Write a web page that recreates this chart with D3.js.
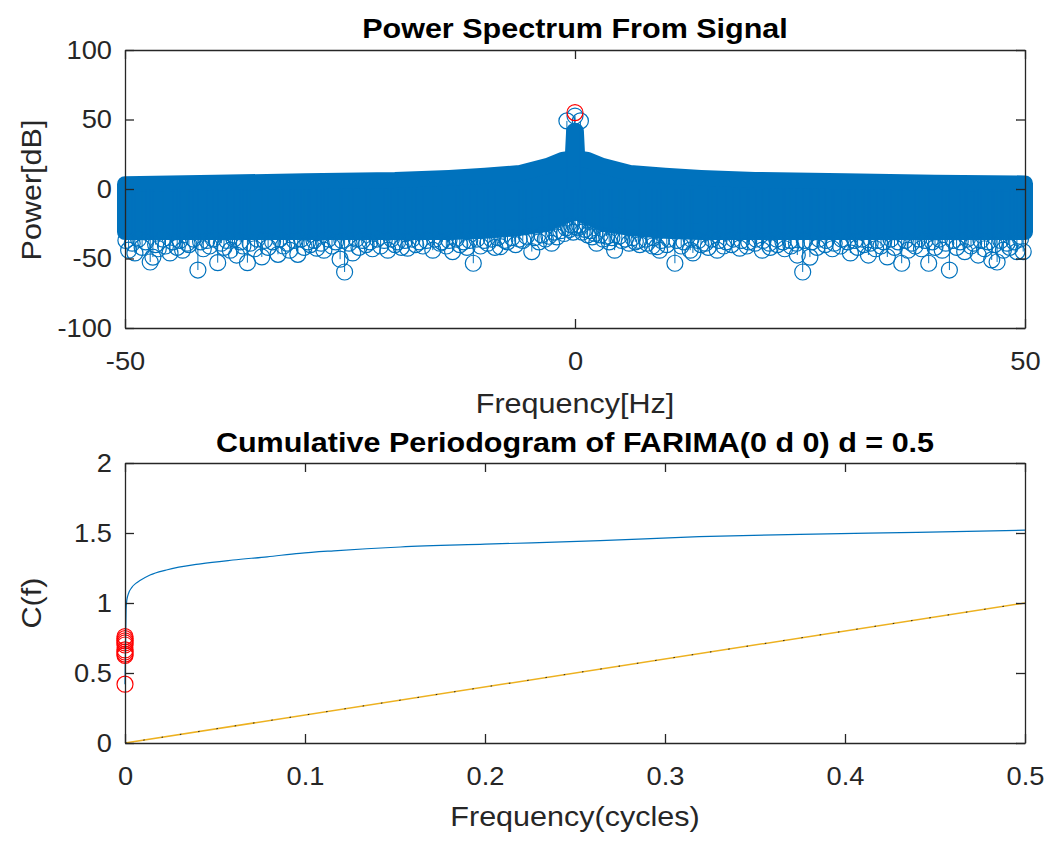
<!DOCTYPE html>
<html>
<head>
<meta charset="utf-8">
<script src="https://cdn.jsdelivr.net/npm/d3@7"></script>
<style>
  body { margin: 0; background: #fff; }
  svg text { font-family: "Liberation Sans", Arial, Helvetica, sans-serif; fill: #262626; }
</style>
</head>
<body>
<svg id="chart" width="1049" height="844"></svg>
<script>
// ---------- Power spectrum (stem plot, dB) ----------
// Envelope of the dense stem cloud: highest and lowest marker centres per frequency
const bandFreq   = [-50, -40, -30, -20, -14, -10, -6.1, -3.1, -1.4, -0.25, -0.1, 0.1, 0.25, 1.4, 3.1, 6.1, 10, 14, 20, 30, 40, 50];
const bandTop    = [3.5, 4.5, 5.5, 6.5, 8, 9.5, 11.5, 16.5, 20.9, 22, 41.7, 41.7, 22, 20.9, 16.5, 11.5, 9.5, 8, 6.5, 5.5, 4.5, 4];
const bandBottom = [-31, -31, -31, -31, -31, -30, -28, -25, -20, -17, -16, -16, -17, -20, -25, -28, -30, -31, -31, -31, -31, -31];

// Markers just under the lower edge of the cloud
const edgeFreq = [
  -49.9, -49.2, -48.5, -47.7, -46.6, -45.8, -44.7, -43.9, -43.1, -42.4,
  -41.6, -40.9, -40.2, -39.3, -38.7, -37.9, -37.2, -36.1, -35.3, -34.5,
  -33.6, -32.8, -32.0, -31.2, -30.4, -29.7, -29.0, -28.2, -27.4, -26.6,
  -25.9, -25.1, -24.3, -23.6, -22.8, -22.0, -21.2, -20.4, -19.7, -18.9,
  -18.1, -17.3, -16.5, -15.6, -14.8, -14.0, -13.2, -12.4, -11.7, -10.9,
  -10.1, -9.3, -8.6, -7.8, -7.0, -6.2, -5.4, -4.5, -3.7, -2.9,
  -2.3, -1.6, -1.0, -0.4, 0.0, 0.5, 1.1, 1.7, 2.2, 2.8,
  3.5, 4.1, 4.9, 5.6, 6.4, 7.1, 7.9, 8.7, 9.6, 10.4,
  11.3, 12.1, 12.9, 13.7, 14.5, 15.2, 16.0, 16.8, 17.6, 18.5,
  19.3, 20.1, 20.9, 21.6, 22.4, 23.1, 23.9, 24.6, 25.5, 26.3,
  27.1, 27.9, 28.8, 29.6, 30.3, 31.1, 31.9, 32.8, 33.6, 34.3,
  35.1, 35.9, 36.7, 37.4, 38.2, 38.9, 39.7, 40.5, 41.2, 42.0,
  42.8, 43.6, 44.3, 45.1, 45.9, 46.6, 47.3, 48.0, 48.8, 49.5];
const edgePower = [
  -37, -39, -36, -38, -40, -36, -38, -37, -39, -36,
  -38, -37, -36, -39, -37, -36, -38, -39, -36, -37,
  -38, -36, -39, -37, -36, -38, -37, -39, -36, -38,
  -37, -39, -36, -37, -38, -36, -37, -36, -38, -37,
  -36, -38, -37, -36, -38, -37, -36, -38, -37, -36,
  -37, -36, -35, -37, -35, -36, -34, -35, -33, -34,
  -31, -30, -28, -26, -27, -26, -29, -30, -32, -33,
  -34, -35, -34, -36, -35, -37, -36, -35, -37, -36,
  -37, -38, -36, -37, -39, -36, -37, -38, -36, -37,
  -38, -36, -37, -39, -36, -38, -37, -39, -37, -38,
  -36, -37, -39, -36, -38, -37, -36, -39, -37, -38,
  -36, -38, -37, -39, -36, -37, -38, -36, -39, -37,
  -38, -36, -39, -37, -38, -40, -37, -39, -38, -36];

// Individual low stems that stick out below the cloud
const lowFreq = [-49.6, -48.9, -48.1, -47.2, -46.9, -46.3, -45.5, -45.0, -44.2, -43.6, -42.9, -41.9, -41.3, -40.6, -39.7, -39.0, -38.3, -37.6, -36.9, -36.4,
  -35.6, -34.8, -34.1, -33.0, -32.4, -31.7, -30.8, -30.1, -29.4, -28.7, -27.9, -27.0, -26.1, -25.6, -24.7, -24.0, -23.2, -22.5, -21.6, -20.8,
  -20.0, -19.3, -18.6, -17.7, -16.9, -15.8, -15.0, -14.3, -13.6, -12.8, -12.0, -11.3, -10.5, -9.7, -8.9, -8.3, -7.5, -6.6, -5.8, -4.8,
  -4.0, -3.3, -2.6, -2.0, -1.2, -0.6, -0.2, 0.3, 0.8, 1.4, 1.9, 2.4, 3.1, 3.8, 4.4, 5.2, 6.0, 6.7, 7.2, 8.0,
  8.6, 9.1, 9.4, 10.2, 11.1, 11.8, 12.8, 13.1, 14.0, 14.8, 15.8, 16.5, 17.4, 18.3, 19.1, 20.0, 20.8, 21.7, 22.5, 23.3,
  24.0, 24.7, 25.3, 26.1, 26.9, 27.8, 28.6, 29.5, 30.6, 31.4, 32.1, 32.6, 33.4, 34.0, 34.7, 35.5, 36.3, 37.0, 37.8, 38.5,
  39.3, 40.0, 40.8, 41.6, 42.4, 43.3, 44.0, 44.8, 45.5, 46.3, 46.9, 47.6, 48.3, 49.1, 49.8];
const lowPower = [-44, -46, -42, -52.5, -49, -43, -41, -46, -42, -44, -40, -58.3, -43, -41, -53, -42, -44, -47.5, -41, -53,
  -43, -48.9, -42, -47, -41, -44, -47, -42, -40, -42.6, -44, -41, -50.5, -59.7, -46, -42, -40, -43, -41, -44,
  -40, -42, -42.6, -40, -41, -44, -39, -41, -45, -40, -42, -53.4, -41, -39, -42, -41.5, -38, -40, -37, -45,
  -38, -36, -39, -34.5, -32, -29, -31, -28, -31, -33, -34.5, -39, -36, -38, -44, -37, -39, -38, -40, -39,
  -41, -41.5, -44, -40, -53.4, -41, -44, -46, -40, -42, -44, -41, -40, -42.6, -41, -39, -44, -42, -40, -43,
  -41, -47.5, -59.7, -49, -42, -40, -43, -41, -46, -42, -40, -47.5, -43, -41, -48.9, -42, -53.4, -44, -41, -43,
  -53.4, -42, -44, -58.3, -42, -45, -41, -47.5, -43, -51, -52.5, -44, -42, -45, -45];

// Stems on top of the DC peak
const peakStemFreq  = [-0.9, 0.0, 0.6];
const peakStemPower = [49, 52.5, 49];
// Maximum marker
const maxFreq  = [0];
const maxPower = [55];

// ---------- Cumulative periodogram ----------
const cpFreq  = [0, 0.0003, 0.0006, 0.001, 0.002, 0.0037, 0.006, 0.0083, 0.0139, 0.023, 0.042, 0.06, 0.079, 0.097, 0.116, 0.153, 0.2, 0.264, 0.319, 0.375, 0.44, 0.5];
const cpValue = [0.42, 0.7, 0.95, 1.02, 1.07, 1.11, 1.14, 1.16, 1.2, 1.236, 1.28, 1.307, 1.33, 1.355, 1.373, 1.40, 1.42, 1.445, 1.474, 1.49, 1.505, 1.52];
// Highlighted low-frequency values
const hiFreq  = [0, 0, 0, 0, 0, 0, 0, 0, 0, 0];
const hiValue = [0.76, 0.745, 0.73, 0.715, 0.70, 0.665, 0.65, 0.635, 0.625, 0.42];
// Reference (white noise) line
const refFreq  = [0, 0.5];
const refValue = [0, 1];

// Tick values
const psXTicks = [-50, 0, 50];
const psYTicks = [-100, -50, 0, 50, 100];
const cpXTicks = [0, 0.1, 0.2, 0.3, 0.4, 0.5];
const cpYTicks = [0, 0.5, 1, 1.5, 2];

const BLUE = "#0072BD", RED = "#FF0000", ORANGE = "#EDB120", AXIS = "#262626";
const TICK_FONT = 25, LABEL_FONT = 28, TITLE_FONT = 28;
const TEXT_STRETCH = 1.09;   // glyphs are set slightly wide

const svg = d3.select("#chart");
const plainNum = d => String(d);   // hyphen-minus for negatives

function frame(g, x, y, xTicks, yTicks, xFmt, yFmt) {
  const [x0, x1] = x.range();
  const [y0, y1] = y.range(); // y0 bottom, y1 top
  const tl = 9;
  const bottom = g.append("g").attr("transform", `translate(0,${y0})`)
    .call(d3.axisBottom(x).tickValues(xTicks).tickFormat(xFmt).tickSize(-tl).tickSizeOuter(0).tickPadding(24));
  const top = g.append("g").attr("transform", `translate(0,${y1})`)
    .call(d3.axisTop(x).tickValues(xTicks).tickFormat("").tickSize(-tl).tickSizeOuter(0));
  const left = g.append("g").attr("transform", `translate(${x0},0)`)
    .call(d3.axisLeft(y).tickValues(yTicks).tickFormat(yFmt).tickSize(-tl).tickSizeOuter(0).tickPadding(13));
  const right = g.append("g").attr("transform", `translate(${x1},0)`)
    .call(d3.axisRight(y).tickValues(yTicks).tickFormat("").tickSize(-tl).tickSizeOuter(0));
  [bottom, top, left, right].forEach(a => {
    a.selectAll("path.domain").attr("stroke", AXIS).attr("stroke-width", 1.3);
    a.selectAll(".tick line").attr("stroke", AXIS).attr("stroke-width", 1.3);
    a.selectAll(".tick text").attr("fill", AXIS).style("font-size", TICK_FONT + "px")
      .style("font-family", '"Liberation Sans", Arial, sans-serif');
  });
}

function stems(g, x, y, fs, vs, color) {
  const pts = fs.map((f, i) => ({ f, v: vs[i] }));
  g.append("g").selectAll("line").data(pts).join("line")
    .attr("x1", d => x(d.f)).attr("x2", d => x(d.f))
    .attr("y1", y(0)).attr("y2", d => y(d.v))
    .attr("stroke", color).attr("stroke-width", 1);
  g.append("g").selectAll("circle").data(pts).join("circle")
    .attr("cx", d => x(d.f)).attr("cy", d => y(d.v)).attr("r", 8)
    .attr("fill", "none").attr("stroke", color).attr("stroke-width", 1.2);
}

// ===== Top panel: power spectrum =====
{
  const x = d3.scaleLinear().domain([-50, 50]).range([125, 1025]);
  const y = d3.scaleLinear().domain([-100, 100]).range([328, 50]);
  const g = svg.append("g");

  // dense stem cloud drawn as its envelope; the thick round stroke stands in for the marker radius
  const env = bandFreq.map((f, i) => [x(f), y(bandTop[i])])
    .concat(bandFreq.map((f, i) => [x(f), y(bandBottom[i])]).reverse());
  g.append("path")
    .attr("d", d3.line()(env) + "Z")
    .attr("fill", BLUE).attr("stroke", BLUE)
    .attr("stroke-width", 16).attr("stroke-linejoin", "round");

  stems(g, x, y, edgeFreq, edgePower, BLUE);
  stems(g, x, y, lowFreq, lowPower, BLUE);
  stems(g, x, y, peakStemFreq, peakStemPower, BLUE);

  // maximum marker
  g.append("g").selectAll("circle").data(maxFreq.map((f, i) => ({ f, v: maxPower[i] }))).join("circle")
    .attr("cx", d => x(d.f)).attr("cy", d => y(d.v)).attr("r", 8)
    .attr("fill", "none").attr("stroke", RED).attr("stroke-width", 1.2);

  frame(g, x, y, psXTicks, psYTicks, plainNum, plainNum);

  g.append("text").attr("x", 575).attr("y", 38).attr("text-anchor", "middle")
    .style("font-size", TITLE_FONT + "px").style("font-weight", "bold").style("fill", "#000")
    .text("Power Spectrum From Signal");
  g.append("text").attr("x", 575).attr("y", 413).attr("text-anchor", "middle")
    .style("font-size", LABEL_FONT + "px").text("Frequency[Hz]");
  g.append("text").attr("transform", "translate(41,190) rotate(-90)").attr("text-anchor", "middle")
    .style("font-size", LABEL_FONT + "px").text("Power[dB]");
}

// ===== Bottom panel: cumulative periodogram =====
{
  const x = d3.scaleLinear().domain([0, 0.5]).range([125, 1025]);
  const y = d3.scaleLinear().domain([0, 2]).range([743, 463]);
  const g = svg.append("g");

  // reference line with its dotted overlay
  const refPts = refFreq.map((f, i) => [x(f), y(refValue[i])]);
  g.append("path").attr("d", d3.line()(refPts))
    .attr("fill", "none").attr("stroke", ORANGE).attr("stroke-width", 1.5);
  g.append("path").attr("d", d3.line()(refPts))
    .attr("fill", "none").attr("stroke", "#222").attr("stroke-width", 1)
    .attr("stroke-dasharray", "1.5,17");

  // cumulative periodogram
  g.append("path")
    .attr("d", d3.line().x((d, i) => x(cpFreq[i])).y(d => y(d)).curve(d3.curveMonotoneX)(cpValue))
    .attr("fill", "none").attr("stroke", BLUE).attr("stroke-width", 1.2);

  // highlighted values
  g.append("g").selectAll("circle").data(hiFreq.map((f, i) => ({ f, v: hiValue[i] }))).join("circle")
    .attr("cx", d => x(d.f)).attr("cy", d => y(d.v)).attr("r", 8)
    .attr("fill", "none").attr("stroke", RED).attr("stroke-width", 1.2);

  frame(g, x, y, cpXTicks, cpYTicks, d => d === 0 ? "0" : d3.format(".1f")(d), plainNum);

  g.append("text").attr("x", 575).attr("y", 452).attr("text-anchor", "middle")
    .style("font-size", TITLE_FONT + "px").style("font-weight", "bold").style("fill", "#000")
    .text("Cumulative Periodogram of FARIMA(0 d 0) d = 0.5");
  g.append("text").attr("x", 575).attr("y", 826).attr("text-anchor", "middle")
    .style("font-size", LABEL_FONT + "px").text("Frequency(cycles)");
  g.append("text").attr("transform", "translate(41,603) rotate(-90)").attr("text-anchor", "middle")
    .style("font-size", LABEL_FONT + "px").text("C(f)");
}

// widen every label a little, keeping its anchor
svg.selectAll("text").each(function () {
  const w = this.getComputedTextLength();
  if (w > 0) d3.select(this).attr("textLength", w * TEXT_STRETCH).attr("lengthAdjust", "spacingAndGlyphs");
});
</script>
</body>
</html>
